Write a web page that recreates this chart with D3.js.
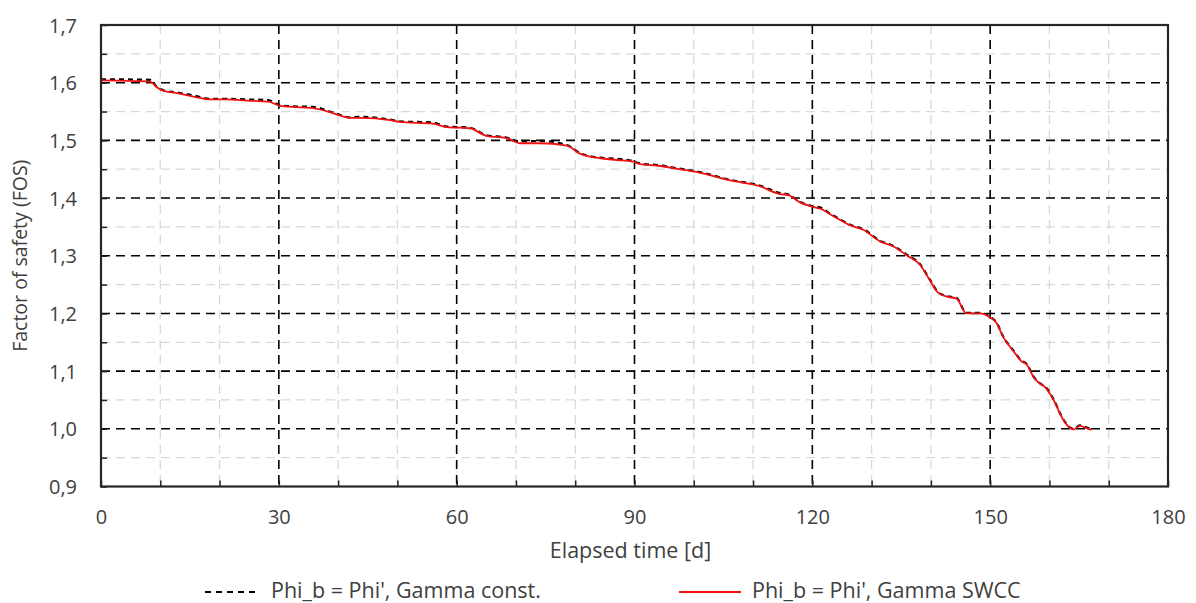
<!DOCTYPE html>
<html>
<head>
<meta charset="utf-8">
<script src="https://cdn.jsdelivr.net/npm/d3@7"></script>
<style>
html,body{margin:0;padding:0;background:#fff;}
svg{display:block;font-family:"Open Sans",sans-serif;}
</style>
</head>
<body>
<svg id="chart" width="1196" height="603"></svg>
<script>
// ---- data ----
const days = [0, 8.3, 9.4, 10.5, 12.8, 15.6, 18.4, 21.2, 24.6, 28.2, 30.2, 32.4, 35.8, 39.2, 42.0, 43.7, 48.8, 50.4, 56.0, 58.3, 62.2, 65.0, 68.4, 70.7, 74.0, 78.6, 80.8, 84.2, 87.0, 89.8, 90.9, 94, 97, 101, 106, 111, 114.5, 116, 118, 120, 121.5, 123, 124.7, 126.3, 128.6, 131.4, 133.7, 135.9, 138.2, 139.8, 141.2, 142.7, 144.3, 146.0, 148.3, 150.0, 151.1, 152.2, 153.9, 155.3, 156.2, 157.3, 158.4, 159.3, 160.7, 162.3, 163.5, 164.1, 165.1, 166.3, 167.1];
const fosSWCC = [1.604, 1.602, 1.592, 1.586, 1.582, 1.576, 1.571, 1.571, 1.569, 1.567, 1.560, 1.558, 1.556, 1.547, 1.539, 1.539, 1.535, 1.532, 1.529, 1.523, 1.521, 1.508, 1.504, 1.495, 1.495, 1.491, 1.477, 1.469, 1.466, 1.463, 1.459, 1.456, 1.451, 1.444, 1.431, 1.421, 1.407, 1.405, 1.392, 1.385, 1.381, 1.372, 1.362, 1.353, 1.345, 1.325, 1.316, 1.301, 1.284, 1.258, 1.236, 1.229, 1.226, 1.200, 1.200, 1.193, 1.183, 1.159, 1.135, 1.117, 1.111, 1.090, 1.078, 1.072, 1.050, 1.016, 1.001, 0.999, 1.005, 1.001, 0.998];
const fosConst = [1.606, 1.605, 1.593, 1.587, 1.583, 1.578, 1.572, 1.572, 1.571, 1.570, 1.561, 1.559, 1.558, 1.548, 1.540, 1.541, 1.536, 1.533, 1.531, 1.524, 1.522, 1.509, 1.505, 1.498, 1.499, 1.492, 1.478, 1.470, 1.468, 1.464, 1.460, 1.457, 1.452, 1.445, 1.432, 1.422, 1.409, 1.406, 1.393, 1.386, 1.383, 1.373, 1.363, 1.354, 1.346, 1.326, 1.317, 1.302, 1.285, 1.259, 1.237, 1.230, 1.227, 1.201, 1.201, 1.194, 1.184, 1.160, 1.136, 1.118, 1.112, 1.091, 1.079, 1.073, 1.051, 1.017, 1.002, 1.000, 1.006, 1.002, 0.999];
const xMajorTicks = [0, 30, 60, 90, 120, 150, 180];
const xMinorTicks = [10, 20, 40, 50, 70, 80, 100, 110, 130, 140, 160, 170];
const yMajorTicks = [0.9, 1.0, 1.1, 1.2, 1.3, 1.4, 1.5, 1.6, 1.7];
const yMinorTicks = [0.95, 1.05, 1.15, 1.25, 1.35, 1.45, 1.55, 1.65];
const seriesNames = ["Phi_b = Phi', Gamma const.", "Phi_b = Phi', Gamma SWCC"];
const xTitle = "Elapsed time [d]";
const yTitle = "Factor of safety (FOS)";

// ---- layout ----
const svg = d3.select("#chart");
const L = 101, T = 25, R = 1168, B = 486.5;
const x = d3.scaleLinear().domain([0, 180]).range([L, R]);
const y = d3.scaleLinear().domain([0.9, 1.7]).range([B, T]);
const fmt = v => d3.format(".1f")(v).replace(".", ",");

// minor grid
const g = svg.append("g");
g.selectAll(".vminor").data(xMinorTicks).enter().append("line")
  .attr("x1", d => x(d)).attr("x2", d => x(d)).attr("y1", T).attr("y2", B)
  .attr("stroke", "#d9d9d9").attr("stroke-width", 1.3).attr("stroke-dasharray", "9,6");
g.selectAll(".hminor").data(yMinorTicks).enter().append("line")
  .attr("y1", d => y(d)).attr("y2", d => y(d)).attr("x1", L).attr("x2", R)
  .attr("stroke", "#d9d9d9").attr("stroke-width", 1.3).attr("stroke-dasharray", "9,6");
// major grid
g.selectAll(".vmajor").data(xMajorTicks.filter(d => d > 0 && d < 180)).enter().append("line")
  .attr("x1", d => x(d)).attr("x2", d => x(d)).attr("y1", T).attr("y2", B)
  .attr("stroke", "#000").attr("stroke-width", 1.6).attr("stroke-dasharray", "9,6");
g.selectAll(".hmajor").data(yMajorTicks.filter(d => d > 0.9 && d < 1.7)).enter().append("line")
  .attr("y1", d => y(d)).attr("y2", d => y(d)).attr("x1", L).attr("x2", R)
  .attr("stroke", "#000").attr("stroke-width", 1.6).attr("stroke-dasharray", "9,6");

// axes (ticks inside, labels)
const xAxis = d3.axisBottom(x).tickValues(xMajorTicks.concat(xMinorTicks)).tickSize(-6)
  .tickFormat(d => xMajorTicks.includes(d) ? d3.format("d")(d) : "");
const gx = svg.append("g").attr("transform", `translate(0,${B})`).call(xAxis);
gx.select(".domain").remove();
gx.selectAll(".tick line").attr("stroke", "#222").attr("stroke-width", 1.5);
gx.selectAll(".tick text").attr("y", 37).attr("dy", 0).attr("font-size", 20)
  .attr("fill", "#404040").attr("font-family", "Open Sans");

const yAxis = d3.axisLeft(y).tickValues(yMajorTicks.concat(yMinorTicks)).tickSize(-6)
  .tickFormat(d => yMajorTicks.some(v => Math.abs(v - d) < 1e-9) ? fmt(d) : "");
const gy = svg.append("g").attr("transform", `translate(${L},0)`).call(yAxis);
gy.select(".domain").remove();
gy.selectAll(".tick line").attr("stroke", "#222").attr("stroke-width", 1.5);
gy.selectAll(".tick text").attr("x", -24).attr("dy", "0.35em").attr("font-size", 20)
  .attr("fill", "#404040").attr("font-family", "Open Sans");

// series
const pts = (vals) => days.map((d, i) => [d, vals[i]]);
const line = d3.line().x(d => x(d[0])).y(d => y(d[1])).curve(d3.curveMonotoneX);
svg.append("path").datum(pts(fosConst)).attr("d", line)
  .attr("fill", "none").attr("stroke", "#000").attr("stroke-width", 2.2).attr("stroke-dasharray", "5,4");
svg.append("path").datum(pts(fosSWCC)).attr("d", line)
  .attr("fill", "none").attr("stroke", "#f01010").attr("stroke-width", 1.8);

// frame
svg.append("rect").attr("x", L).attr("y", T).attr("width", R - L).attr("height", B - T)
  .attr("fill", "none").attr("stroke", "#262626").attr("stroke-width", 2.2);

// titles
svg.append("text").attr("x", (L + R) / 2 - 4).attr("y", 558).attr("text-anchor", "middle")
  .attr("font-size", 21.5).attr("fill", "#404040").text(xTitle);
svg.append("text").attr("transform", `translate(27,${(T + B) / 2}) rotate(-90)`)
  .attr("text-anchor", "middle").attr("font-size", 19.5).attr("fill", "#404040").text(yTitle);

// legend
const leg = svg.append("g");
leg.append("line").attr("x1", 205).attr("x2", 258).attr("y1", 592).attr("y2", 592)
  .attr("stroke", "#000").attr("stroke-width", 2).attr("stroke-dasharray", "6,5");
leg.append("text").attr("x", 271).attr("y", 598).attr("font-size", 21.5).attr("fill", "#404040").text(seriesNames[0]);
leg.append("line").attr("x1", 679).attr("x2", 741).attr("y1", 592).attr("y2", 592)
  .attr("stroke", "#f01010").attr("stroke-width", 2);
leg.append("text").attr("x", 752).attr("y", 598).attr("font-size", 21.5).attr("fill", "#404040").text(seriesNames[1]);
</script>
</body>
</html>
